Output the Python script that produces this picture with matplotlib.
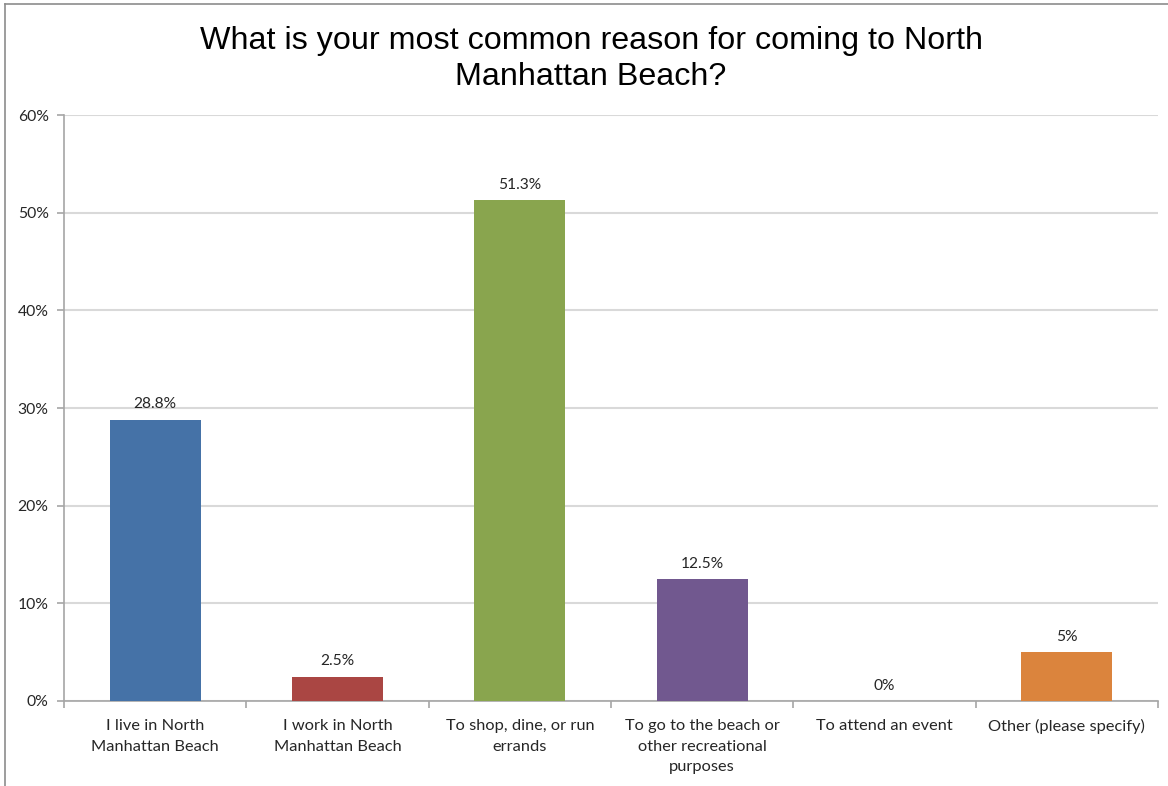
import matplotlib.pyplot as plt
from matplotlib.lines import Line2D
from matplotlib.ticker import FuncFormatter
import numpy as np

categories = ['I live in North\nManhattan Beach', 'I work in North\nManhattan Beach',
              'To shop, dine, or run\nerrands', 'To go to the beach or\nother recreational\npurposes',
              'To attend an event', 'Other (please specify)']
values = [28.8, 2.5, 51.3, 12.5, 0, 5]
value_labels = ['28.8%', '2.5%', '51.3%', '12.5%', '0%', '5%']
colors = ['#4572A7', '#AA4643', '#89A54E', '#71588F', '#4198AF', '#DB843D']
yticks = [0, 10, 20, 30, 40, 50, 60]

plt.rcParams['font.family'] = ['Lato', 'DejaVu Sans']

fig = plt.figure(figsize=(11.68, 7.86), dpi=100)
ax = fig.add_axes([64 / 1168, 85 / 786, 1094 / 1168, 586 / 786])

x = np.arange(len(categories))
ax.bar(x, values, width=0.5, color=colors, zorder=3)

# data labels above bars
for xi, v, lab in zip(x, values, value_labels):
    ax.annotate(lab, (xi, v), xytext=(0, 6), textcoords='offset points',
                ha='center', va='bottom', fontsize=11.2, color='#262626')

ax.set_xlim(-0.5, len(categories) - 0.5)
ax.set_ylim(0, 60)
ax.set_yticks(yticks)
ax.yaxis.set_major_formatter(FuncFormatter(lambda v, p: f'{v:.0f}%'))
ax.grid(axis='y', color='#D9D9D9', linewidth=1.5, zorder=0)

# category labels at centres, tick marks between categories
ax.set_xticks(x)
ax.set_xticklabels(categories, fontsize=11.8, color='#262626', linespacing=1.6)
ax.tick_params(axis='x', which='major', length=0, pad=13)
ax.set_xticks(np.arange(-0.5, len(categories)), minor=True)
ax.tick_params(axis='x', which='minor', length=5, color='#A6A6A6', width=1.2)
ax.tick_params(axis='y', length=5, color='#A6A6A6', width=1.2, labelsize=11.3,
               labelcolor='#262626', pad=6)

for s in ['top', 'right']:
    ax.spines[s].set_visible(False)
for s in ['left', 'bottom']:
    ax.spines[s].set_color('#A6A6A6')
    ax.spines[s].set_linewidth(1.2)

fig.text(591 / 1168, 1 - 59 / 786, 'What is your most common reason for coming to North\nManhattan Beach?',
         ha='center', va='center', fontsize=23.2, family='Liberation Sans',
         linespacing=1.3, color='black')

# chart border (cut at right and bottom)
fig.add_artist(Line2D([5 / 1168, 5 / 1168], [0, 1 - 4 / 786], color='#8C8C8C', linewidth=1.2))
fig.add_artist(Line2D([5 / 1168, 1], [1 - 4 / 786, 1 - 4 / 786], color='#8C8C8C', linewidth=1.2))

fig.savefig('out.png', dpi=100, facecolor='white')
